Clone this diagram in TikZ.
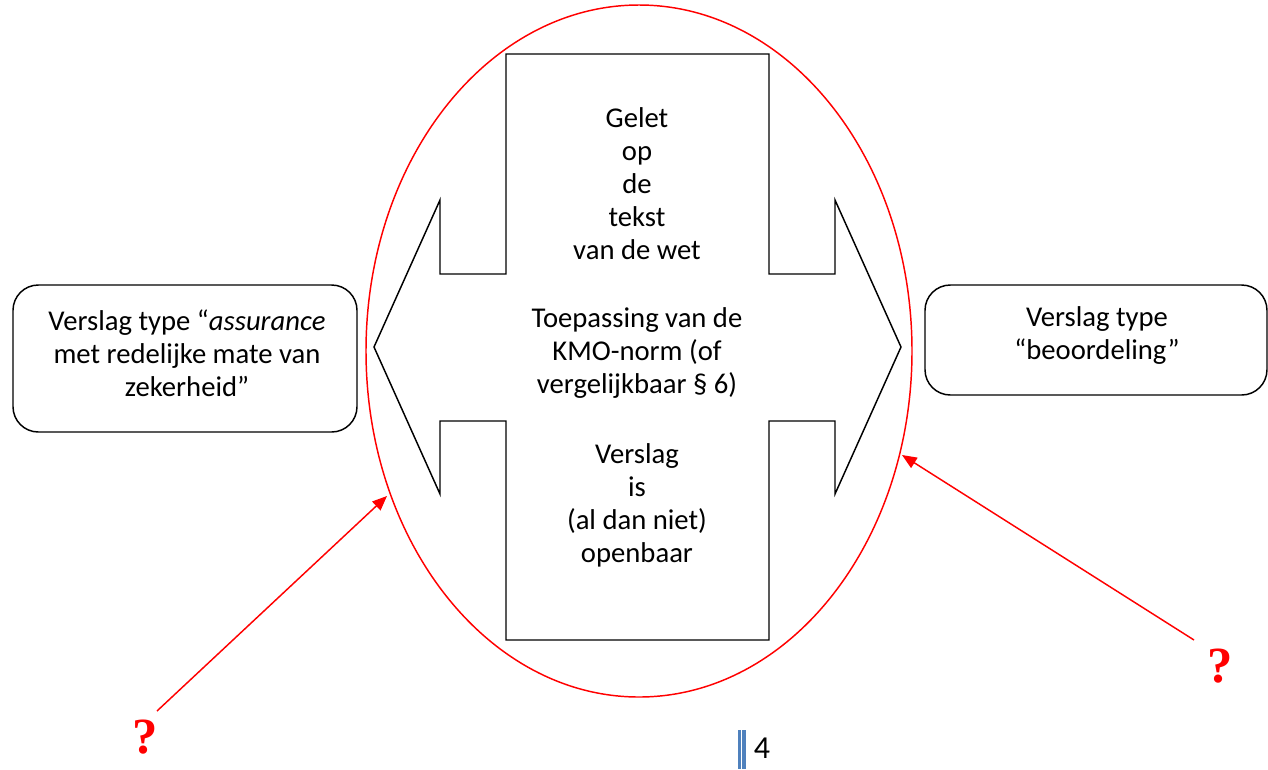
\documentclass[tikz,border=0pt]{standalone}
\usepackage{fontspec}
\setmainfont{Carlito}
\newfontfamily\qfont{Liberation Serif}
\usetikzlibrary{arrows.meta}
\definecolor{pgblue}{HTML}{4F81BD}
\begin{document}
\begin{tikzpicture}[x=0.75pt,y=-0.75pt,
  body/.style={align=center,font=\fontsize{21.5}{24.75}\selectfont,inner sep=0pt},
  rbox/.style={draw,line width=1.1pt,rounded corners=19pt},
  qarrow/.style={red,line width=1.1pt,-{Triangle[length=11pt,width=9pt]}},
  qmark/.style={text=red,font=\qfont\bfseries\fontsize{38}{38}\selectfont,inner sep=0pt}]
\useasboundingbox (0,0) rectangle (1268,769);
% ellipse
\draw[red,line width=1.1pt] (639,351) ellipse [x radius=204.75pt, y radius=259.5pt];
% cross / double arrow
\draw[line width=1.1pt,line join=miter]
 (506,54) -- (769,54) -- (769,274) -- (835,274) -- (835,200) -- (901,347) -- (835,494)
 -- (835,421) -- (769,421) -- (769,640) -- (506,640) -- (506,421) -- (440,421)
 -- (440,494) -- (374,347) -- (440,200) -- (440,274) -- (506,274) -- cycle;
\node[body] (t1) at (637,184) {Gelet\\op\\de\\tekst\\van de wet};
\node[body] (t2) at (637,353) {Toepassing van de\\KMO-norm (of\\vergelijkbaar § 6)};
\node[body] (t3) at (637,505) {Verslag\\is\\(al dan niet)\\openbaar};
% side boxes
\draw[rbox] (13,285) rectangle (357,432);
\node[body] (lb) at (187,353) {Verslag type “\textit{assurance}\\met redelijke mate van\\zekerheid”};
\draw[rbox] (925,285) rectangle (1267,395);
\node[body] (rb) at (1097,336) {Verslag type\\“beoordeling”};
% question arrows
\coordinate (ls) at (157,711);
\coordinate (lt) at (387,496);
\coordinate (rs) at (1194,640);
\coordinate (rt) at (902,455);
\draw[qarrow] (ls) -- (lt);
\draw[qarrow] (rs) -- (rt);
\node[qmark] (q1) at (145,737) {?};
\node[qmark] (q2) at (1220,666) {?};
% page number
\fill[pgblue] (738,730) rectangle (740.5,769);
\fill[pgblue] (742,730) rectangle (745.5,769);
\node[font=\fontsize{24}{24}\selectfont,inner sep=0pt] (pn) at (762,748) {4};
\end{tikzpicture}
\end{document}
